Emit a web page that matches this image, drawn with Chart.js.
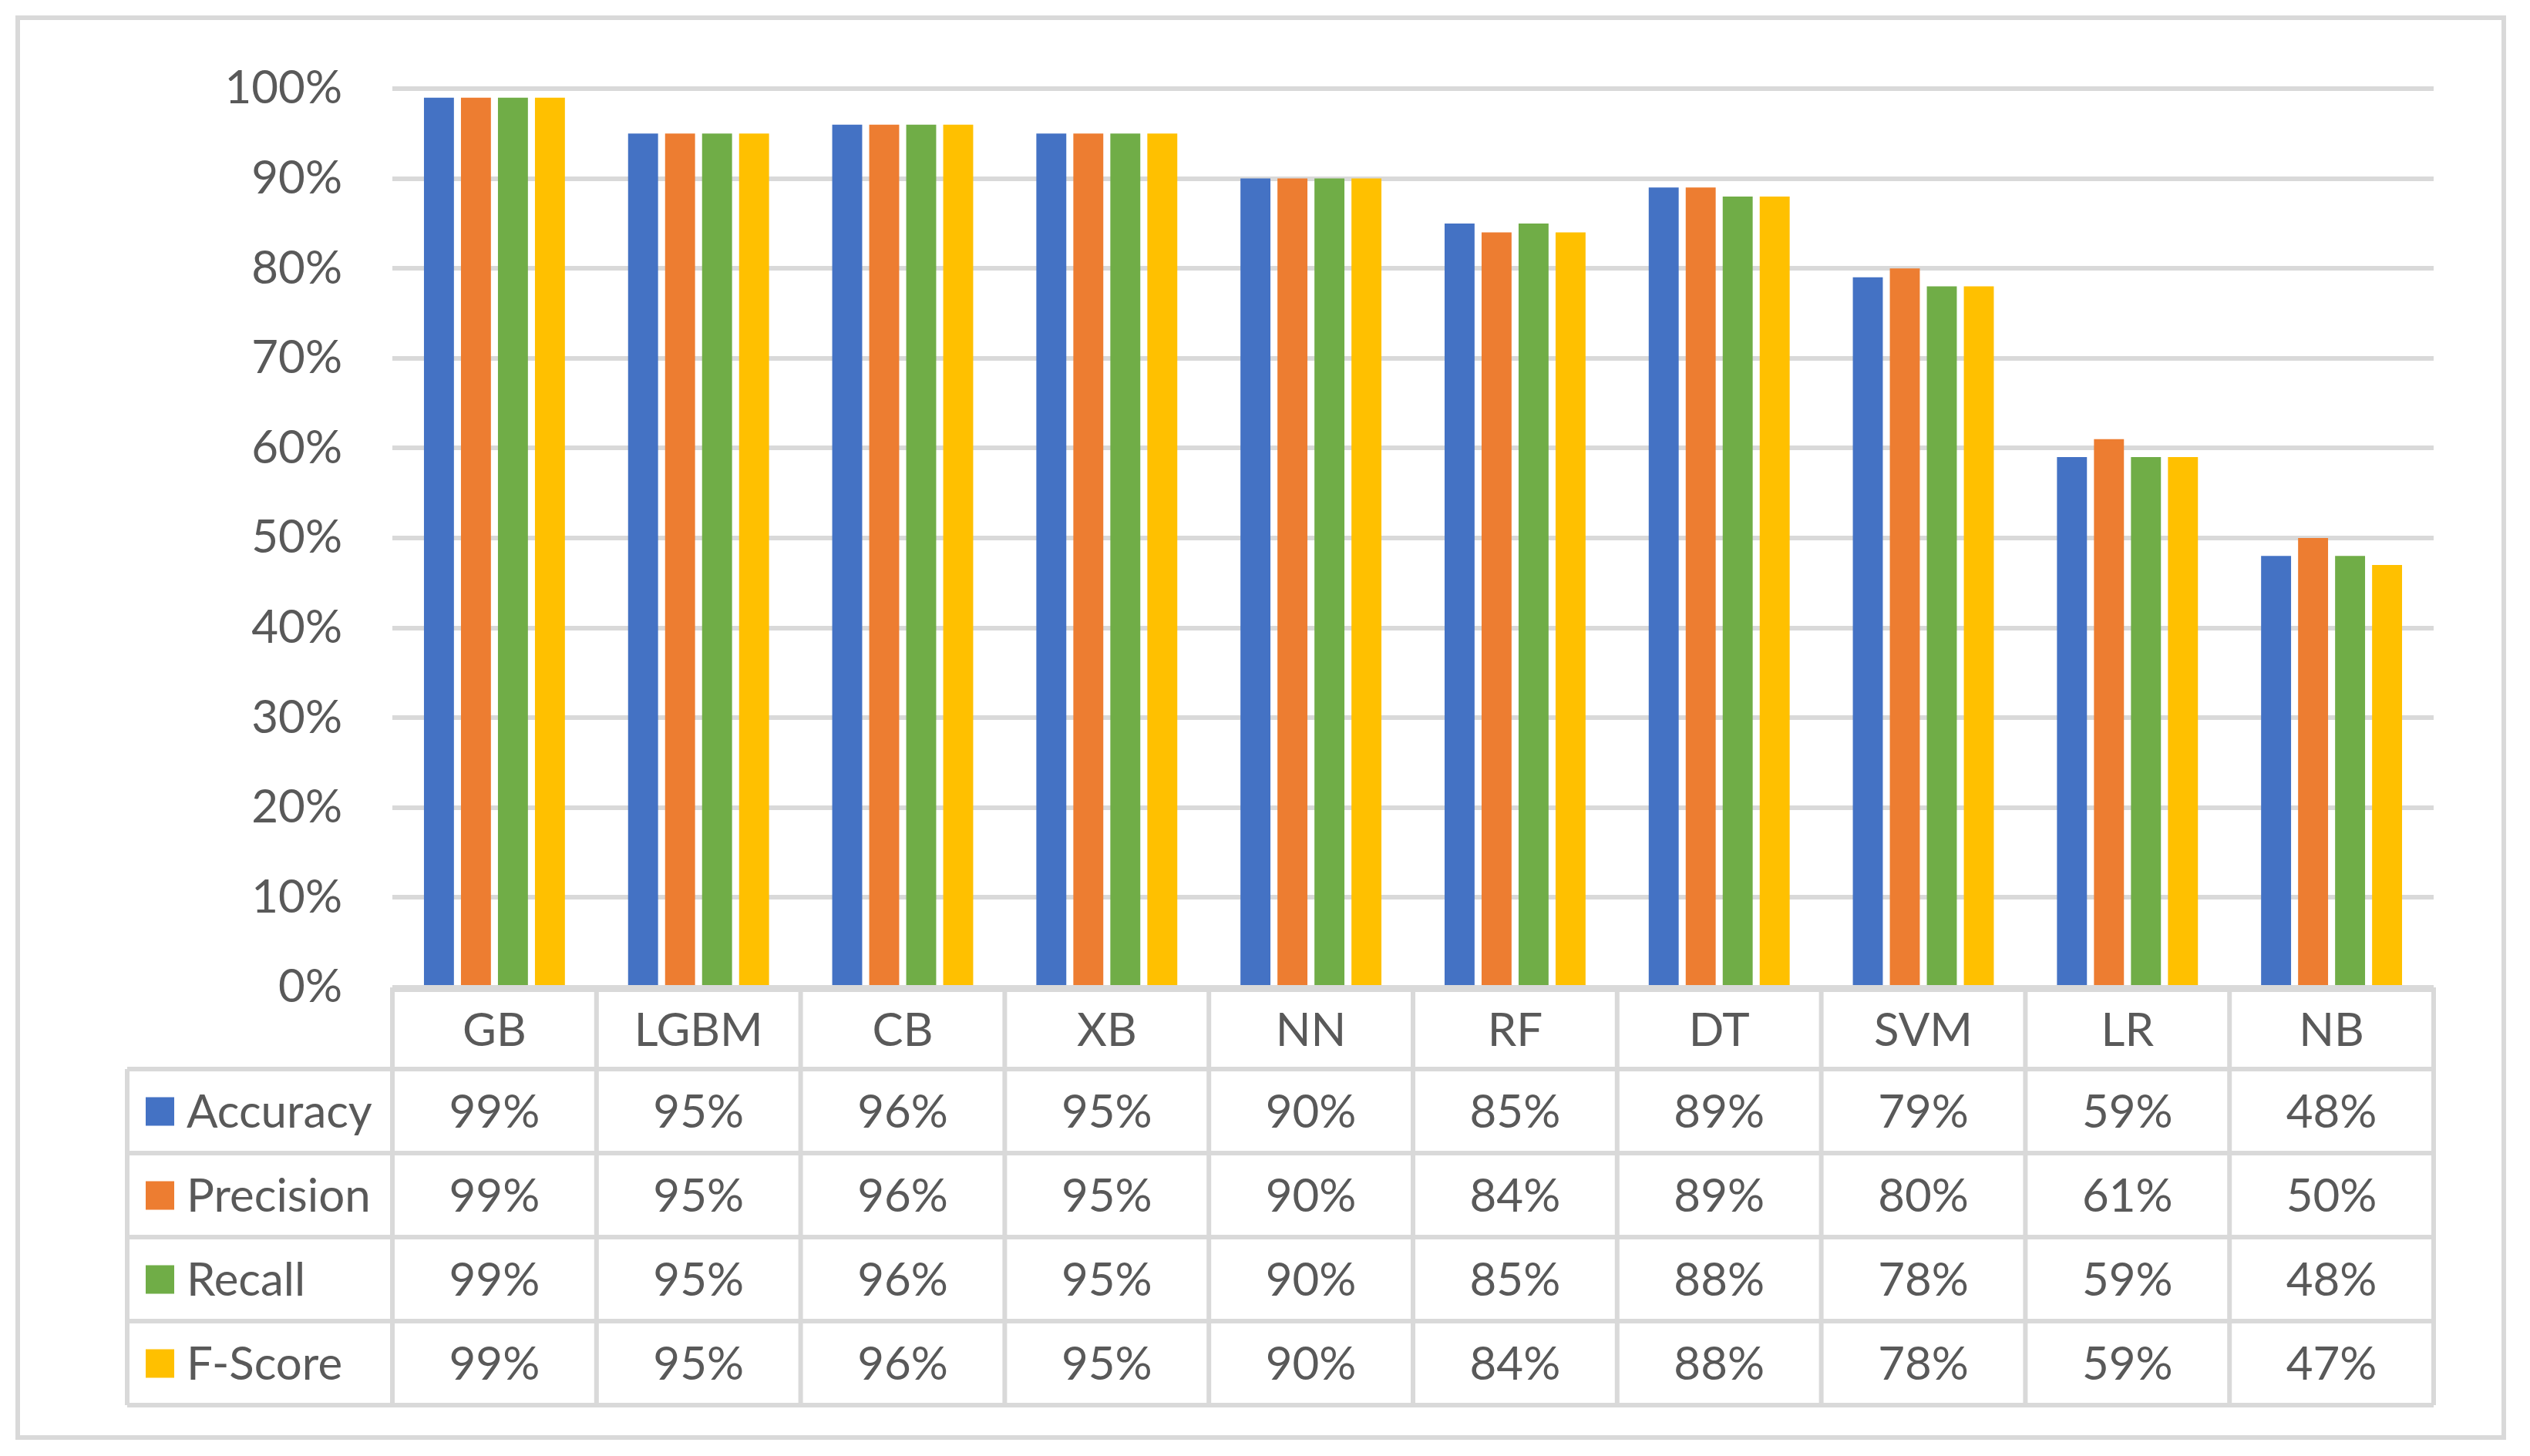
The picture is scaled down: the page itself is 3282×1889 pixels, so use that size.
<!DOCTYPE html>
<html>
<head>
<meta charset="utf-8">
<title>Model comparison</title>
<script src="https://cdn.jsdelivr.net/npm/chart.js@4"></script>
<style>
  html, body { margin: 0; padding: 0; background: #fff; }
  canvas { display: block; }
</style>
</head>
<body>
<canvas id="modelChart" width="3282" height="1889"></canvas>
<script>
// chart data (percent)
const categories = ['GB', 'LGBM', 'CB', 'XB', 'NN', 'RF', 'DT', 'SVM', 'LR', 'NB'];
const accuracy  = [99, 95, 96, 95, 90, 85, 89, 79, 59, 48];
const precision = [99, 95, 96, 95, 90, 84, 89, 80, 61, 50];
const recall    = [99, 95, 96, 95, 90, 85, 88, 78, 59, 48];
const fScore    = [99, 95, 96, 95, 90, 84, 88, 78, 59, 47];
const seriesNames = ['Accuracy', 'Precision', 'Recall', 'F-Score'];
const seriesColors = ['#4472C4', '#ED7D31', '#70AD47', '#FFC000'];

const lineColor = '#d9d9d9';
const textColor = '#595959';

// draws the outer frame and the Excel style data table under the plot
const dataTablePlugin = {
    id: 'dataTable',
    beforeDraw(chart) {
        const ctx = chart.ctx;
        ctx.save();
        ctx.fillStyle = '#fff';
        ctx.fillRect(0, 0, chart.width, chart.height);
        ctx.strokeStyle = lineColor;
        ctx.lineWidth = 6;
        ctx.strokeRect(23, 23, 3225, 1842);
        ctx.restore();
    },
    afterDraw(chart) {
        const ctx = chart.ctx;
        const area = chart.chartArea;
        const xScale = chart.scales.x;
        const colW = (area.right - area.left) / categories.length;
        const headTop = area.bottom + 3;
        const rowTop = 1387;
        const rowH = 109;
        const tableLeft = 165;
        const tableBottom = rowTop + rowH * chart.data.datasets.length;

        ctx.save();
        ctx.strokeStyle = lineColor;
        ctx.lineWidth = 6;
        ctx.beginPath();
        // header top line
        ctx.moveTo(area.left, headTop);
        ctx.lineTo(area.right, headTop);
        // row lines
        for (let r = 0; r <= chart.data.datasets.length; r++) {
            const y = rowTop + r * rowH;
            ctx.moveTo(tableLeft, y);
            ctx.lineTo(area.right, y);
        }
        // column lines
        for (let c = 0; c <= categories.length; c++) {
            const x = area.left + c * colW;
            ctx.moveTo(x, area.bottom);
            ctx.lineTo(x, tableBottom);
        }
        ctx.moveTo(tableLeft, rowTop);
        ctx.lineTo(tableLeft, tableBottom);
        ctx.stroke();

        ctx.font = '60px Lato';
        ctx.fillStyle = textColor;
        ctx.textBaseline = 'middle';
        ctx.textAlign = 'center';

        // category labels
        categories.forEach((cat, i) => {
            ctx.fillText(cat, xScale.getPixelForValue(i), (headTop + rowTop) / 2 + 2);
        });

        // legend keys and values
        chart.data.datasets.forEach((ds, r) => {
            const yMid = rowTop + r * rowH + rowH / 2 + 2;
            ctx.fillStyle = ds.backgroundColor;
            ctx.fillRect(189, yMid - 20, 37, 37);
            ctx.fillStyle = textColor;
            ctx.textAlign = 'left';
            ctx.fillText(ds.label, 242, yMid);
            ctx.textAlign = 'center';
            ds.data.forEach((v, i) => {
                ctx.fillText(v + '%', xScale.getPixelForValue(i), yMid);
            });
        });
        ctx.restore();
    }
};

function initModelChart() {
    Chart.defaults.font.family = 'Lato';
    Chart.defaults.font.size = 60;
    Chart.defaults.color = textColor;

    const ctx = document.getElementById('modelChart').getContext('2d');
    const values = [accuracy, precision, recall, fScore];

    new Chart(ctx, {
        type: 'bar',
        data: {
            labels: categories,
            datasets: seriesNames.map((name, i) => ({
                label: name,
                data: values[i],
                backgroundColor: seriesColors[i],
                borderWidth: 0,
                categoryPercentage: 0.725,
                barPercentage: 0.81
            }))
        },
        options: {
            responsive: false,
            animation: false,
            devicePixelRatio: 1,
            layout: {
                padding: { left: 0, top: 115, right: 125, bottom: 608 }
            },
            plugins: {
                legend: { display: false },
                tooltip: { enabled: false }
            },
            scales: {
                x: {
                    display: false
                },
                y: {
                    min: 0,
                    max: 100,
                    afterFit(scale) { scale.width = 509; },
                    ticks: {
                        stepSize: 10,
                        padding: 65,
                        callback: v => v + '%'
                    },
                    grid: {
                        color: lineColor,
                        lineWidth: 6,
                        drawTicks: false
                    },
                    border: { display: false }
                }
            }
        },
        plugins: [dataTablePlugin]
    });
}

document.addEventListener('DOMContentLoaded', initModelChart);
</script>
</body>
</html>
